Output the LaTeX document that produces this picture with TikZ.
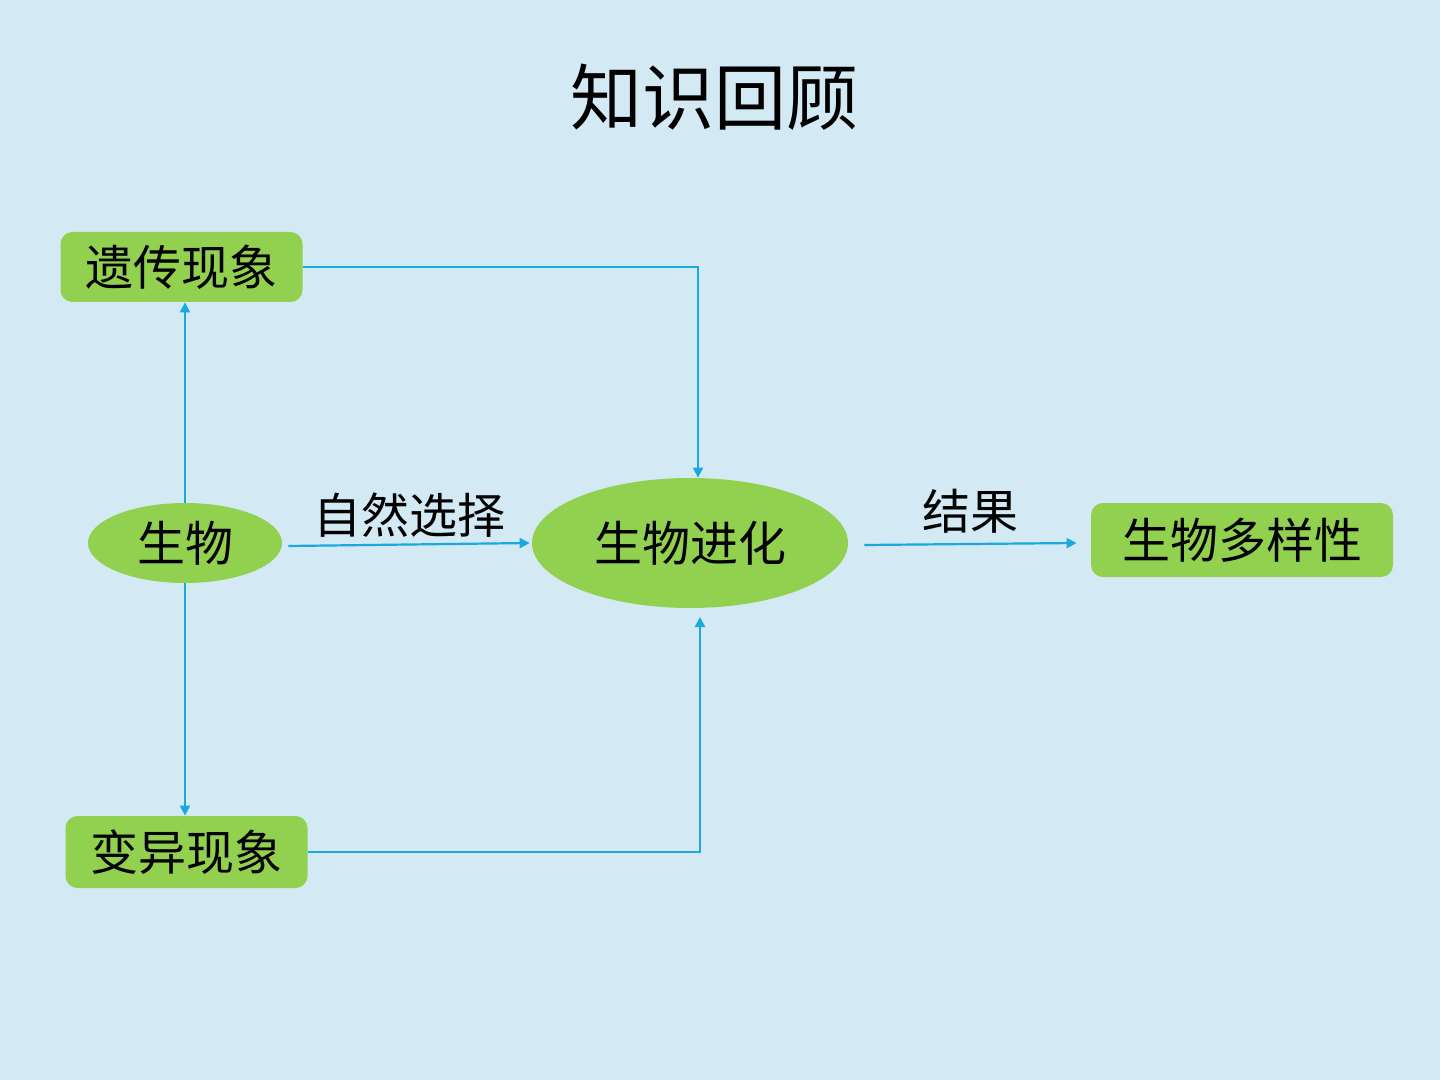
\documentclass[tikz,border=0pt]{standalone}
\usepackage{fontspec}
\setmainfont{Noto Sans CJK SC}
\usetikzlibrary{shapes.geometric,arrows.meta}
\definecolor{bg}{HTML}{D3EAF4}
\definecolor{leaf}{HTML}{92D050}
\definecolor{link}{HTML}{1AA8E0}
\tikzset{
  px/.style={x=0.5pt,y=-0.5pt},
  gbox/.style={fill=leaf,rounded corners=6pt,inner sep=0pt,font=\fontsize{24pt}{24pt}\selectfont},
  gell/.style={ellipse,fill=leaf,inner sep=0pt,font=\fontsize{24pt}{24pt}\selectfont},
  lbl/.style={inner sep=0pt,font=\fontsize{24pt}{24pt}\selectfont},
  conn/.style={draw=link,line width=1.1pt,-{Triangle[length=5pt,width=5pt]}},
}
\begin{document}
\begin{tikzpicture}[px]
\fill[bg] (0,0) rectangle (1440,1080);
\useasboundingbox (0,0) rectangle (1440,1080);
\node[inner sep=0pt,font=\fontsize{36pt}{36pt}\selectfont] (title) at (714,97) {知识回顾};
\node[gbox,minimum width=121pt,minimum height=35pt] (yc) at (181.5,267) {遗传现象};
\node[gbox,minimum width=121pt,minimum height=36pt] (by) at (186.5,852) {变异现象};
\node[gell,minimum width=97pt,minimum height=40pt] (sw) at (185,543) {生物};
\node[gell,minimum width=158pt,minimum height=65pt] (jh) at (690,543) {生物进化};
\node[gbox,minimum width=151pt,minimum height=37pt] (dy) at (1242,540) {生物多样性};
\coordinate (c1) at (698,267);
\coordinate (c2) at (700,852);
\coordinate (c3) at (700,617);
\draw[conn] (sw.north) -- (sw.north |- yc.south);
\draw[conn] (sw.south) -- (sw.south |- by.north);
\draw[conn] (yc.east) -- (c1) -- (c1 |- jh.north);
\draw[conn] (by.east) -- (c2) -- (c3);
\draw[conn] ([xshift=3pt,yshift=-1.5pt]sw.east) -- ([xshift=-1pt]jh.west) node[lbl,midway,above=3pt] (zr) {自然选择};
\draw[conn] ([xshift=8pt,yshift=-1pt]jh.east) -- ([xshift=-7pt,yshift=-1.5pt]dy.west) node[lbl,midway,above=5pt] (jg) {结果};
\end{tikzpicture}
\end{document}
